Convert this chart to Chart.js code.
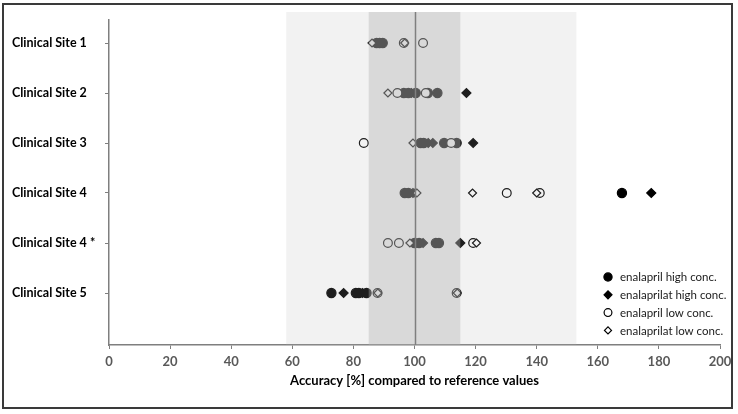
<!DOCTYPE html>
<html>
<head>
<meta charset="utf-8">
<script src="https://cdn.jsdelivr.net/npm/chart.js"></script>
<style>
  html, body { margin: 0; padding: 0; background: #fff; }
  canvas { display: block; }
</style>
</head>
<body>
<canvas id="chart" width="738" height="414"></canvas>
<script>
const SITES = ["Clinical Site 1", "Clinical Site 2", "Clinical Site 3", "Clinical Site 4", "Clinical Site 4 *", "Clinical Site 5"];
const X_TICKS = [0, 20, 40, 60, 80, 100, 120, 140, 160, 180, 200];

// accuracy values per site, in the order of SITES
const ENALAPRIL_HIGH = [
  [87.6, 88.6, 89.6],
  [96.5, 98, 100.4, 104.4, 107.5],
  [102, 103, 109.7, 113.8],
  [96.8, 98, 167.9],
  [100, 101.5, 107, 108],
  [72.8, 80.8, 81.8, 84.3],
];
const ENALAPRILAT_HIGH = [
  [88.5],
  [99, 117],
  [104.5, 106, 119.2],
  [99.5, 100.3, 177.5],
  [102.8, 115],
  [76.8, 83],
];
const ENALAPRIL_LOW = [
  [96.5, 102.8],
  [94.4, 103.7],
  [83.4, 112],
  [130.2, 141],
  [91.3, 94.9, 119.2],
  [87.9, 113.8],
];
const ENALAPRILAT_LOW = [
  [86.1, 96.8],
  [91.3],
  [99.5],
  [100.8, 119, 140],
  [98.5, 120.3],
  [88, 114],
];

const OUTER_BAND = [58, 153];
const INNER_BAND = [85, 115];
const REFERENCE = 100;

function toPoints(rows) {
  const out = [];
  rows.forEach((vals, site) => vals.forEach((v) => out.push({ x: v, y: site })));
  return out;
}

const SERIES = [
  { label: "enalapril high conc.", rows: ENALAPRIL_HIGH, style: "circle", fill: "#000", r: 4.6, order: 3 },
  { label: "enalaprilat high conc.", rows: ENALAPRILAT_HIGH, style: "rectRot", fill: "#000", r: 4.5, order: 2 },
  { label: "enalapril low conc.", rows: ENALAPRIL_LOW, style: "circle", fill: "#fff", r: 4.4, order: 1 },
  { label: "enalaprilat low conc.", rows: ENALAPRILAT_LOW, style: "rectRot", fill: "#fff", r: 4, order: 0 },
];

function drawMarker(ctx, style, x, y, r, fill) {
  ctx.save();
  ctx.beginPath();
  if (style === "circle") {
    ctx.arc(x, y, r, 0, Math.PI * 2);
  } else {
    ctx.moveTo(x - r, y);
    ctx.lineTo(x, y - r);
    ctx.lineTo(x + r, y);
    ctx.lineTo(x, y + r);
    ctx.closePath();
  }
  ctx.fillStyle = fill;
  ctx.fill();
  ctx.lineWidth = 1.2;
  ctx.strokeStyle = "#000";
  ctx.stroke();
  ctx.restore();
}

// shaded ranges are translucent and sit over the markers, as in the original
const bandsPlugin = {
  id: "bands",
  afterDatasetsDraw(chart) {
    const { ctx, chartArea } = chart;
    const x = chart.scales.x;
    const top = chartArea.top - 8;
    const h = chartArea.bottom - top;
    ctx.save();
    ctx.fillStyle = "rgba(176,176,176,0.17)";
    const o0 = x.getPixelForValue(OUTER_BAND[0]);
    const o1 = x.getPixelForValue(OUTER_BAND[1]);
    ctx.fillRect(o0, top, o1 - o0, h);
    ctx.fillStyle = "rgba(176,176,176,0.38)";
    const i0 = x.getPixelForValue(INNER_BAND[0]);
    const i1 = x.getPixelForValue(INNER_BAND[1]);
    ctx.fillRect(i0, top, i1 - i0, h);
    const rx = Math.round(x.getPixelForValue(REFERENCE)) + 0.5;
    ctx.strokeStyle = "#7f7f7f";
    ctx.lineWidth = 1.5;
    ctx.beginPath();
    ctx.moveTo(rx, top);
    ctx.lineTo(rx, chartArea.bottom);
    ctx.stroke();
    ctx.restore();
  },
};

const legendPlugin = {
  id: "boxLegend",
  afterDraw(chart) {
    const { ctx } = chart;
    ctx.save();
    ctx.font = "11.5px Lato";
    ctx.fillStyle = "#1a1a1a";
    ctx.textBaseline = "middle";
    SERIES.forEach((s, i) => {
      const y = 277 + i * 17.8;
      drawMarker(ctx, s.style, 608, y, s.r - 0.5, s.fill);
      ctx.fillText(s.label, 620, y + 0.5);
    });
    ctx.strokeStyle = "#3a3a3a";
    ctx.lineWidth = 2;
    ctx.strokeRect(3, 4, 729, 404);
    ctx.restore();
  },
};

new Chart(document.getElementById("chart"), {
  type: "scatter",
  data: {
    datasets: SERIES.map((s) => ({
      label: s.label,
      data: toPoints(s.rows),
      pointStyle: s.style,
      pointRadius: s.r,
      pointHoverRadius: s.r,
      backgroundColor: s.fill,
      borderColor: "#000",
      borderWidth: 1.2,
      order: s.order,
    })),
  },
  options: {
    responsive: false,
    animation: false,
    devicePixelRatio: 1,
    layout: { padding: { left: 12, top: 20, right: 18, bottom: 0 } },
    plugins: {
      legend: { display: false },
      tooltip: { enabled: false },
    },
    scales: {
      x: {
        type: "linear",
        min: 0,
        max: 200,
        afterFit: (scale) => { scale.height = 69; },
        afterBuildTicks: (scale) => { scale.ticks = X_TICKS.map((v) => ({ value: v })); },
        ticks: {
          color: "#595959",
          font: { family: "Lato", size: 13, weight: "bold" },
          padding: 5,
        },
        grid: { drawOnChartArea: false, drawTicks: true, tickLength: 4, color: "#7f7f7f" },
        border: { color: "#7f7f7f", width: 1.5 },
        title: {
          display: true,
          text: "Accuracy [%] compared to reference values",
          color: "#000",
          font: { family: "Lato", size: 13, weight: "bold" },
          padding: { top: 0, bottom: 25 },
        },
      },
      y: {
        type: "linear",
        reverse: true,
        min: -0.46,
        max: 6.04,
        afterFit: (scale) => { scale.width = 97; },
        afterBuildTicks: (scale) => { scale.ticks = SITES.map((_, i) => ({ value: i })); },
        ticks: {
          autoSkip: false,
          crossAlign: "far",
          color: "#000",
          font: { family: "Lato", size: 12.5, weight: "bold" },
          callback: (v) => SITES[v],
        },
        grid: { drawOnChartArea: false, drawTicks: true, tickLength: 4, color: "#7f7f7f" },
        border: { color: "#7f7f7f", width: 1.5 },
      },
    },
  },
  plugins: [bandsPlugin, legendPlugin],
});
</script>
</body>
</html>
